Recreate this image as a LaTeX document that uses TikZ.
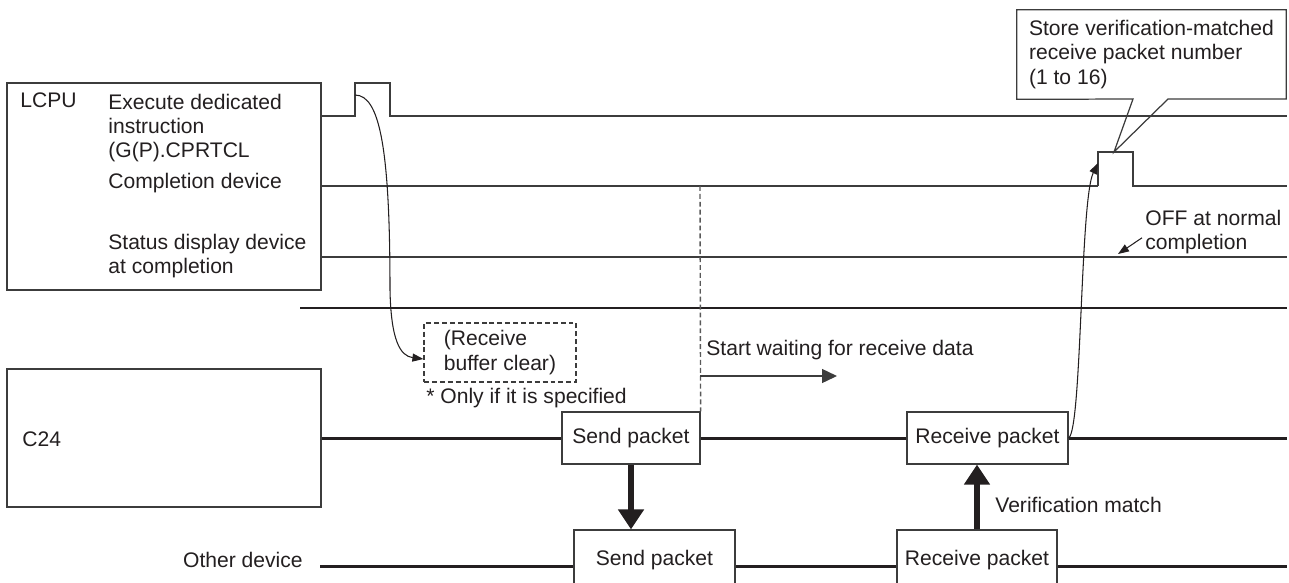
\documentclass[tikz,border=0pt]{standalone}
\usepackage{fontspec}
\setmainfont{Liberation Sans}
\usetikzlibrary{arrows.meta}
\definecolor{ink}{HTML}{231F20}
\definecolor{wire}{HTML}{3C3C3C}

\begin{document}
\begin{tikzpicture}[x=0.02cm,y=-0.02cm,font=\fontsize{12}{13.8}\selectfont,
    lbl/.style={inner sep=0pt,text=ink,align=left},
    panel/.style={draw=wire,line width=0.7pt,minimum width=6.28cm},
    pkt/.style={draw=wire,fill=white,line width=0.7pt,text=ink},
    trace/.style={draw=wire,line width=0.8pt},
    bus/.style={draw=ink,line width=1.7pt},
    push/.style={draw=ink,line width=3.4pt,-{Triangle[length=0.4cm,width=0.5cm]}},
    cue/.style={draw=ink,line width=0.6pt,-{Triangle[length=0.22cm,width=0.16cm]}}]
  \useasboundingbox (0,0) rectangle (1289,582);
  % left panels
  \node[panel,minimum height=4.14cm] (lcpu) at (164,186.5) {};
  \node[panel,minimum height=2.76cm] (c24) at (164,438) {};
  \node[lbl,anchor=base west] (lcpuname) at (20,107) {LCPU};
  \node[lbl,anchor=north west] (exec) at (108,93.5) {Execute dedicated\\instruction\\(G(P).CPRTCL};
  \node[lbl,anchor=base west] (cmpl) at (108,188) {Completion device};
  \node[lbl,anchor=north west] (stat) at (108,233.5) {Status display device\\at completion};
  \node[lbl,anchor=base west] (c24name) at (22,446) {C24};
  \node[lbl,anchor=base east] (other) at (303,567) {Other device};

  % LCPU signals
  \draw[trace] (321,116) -- (355,116) -- (355,83) -- (390,83) -- (390,116) -- (1287,116);
  \draw[trace] (321,186) -- (1098,186);
  \draw[trace,line width=1.2pt] (1098,186) -- (1098,152) -- (1133,152) -- (1133,186) -- (1287,186);
  \draw[trace] (321,257) -- (1287,257);
  \draw[bus] (300,308) -- (1287,308);
  \draw[bus] (320,566) -- (1287,566);
  \coordinate (go) at (355,95);
  \coordinate (done) at (1098,163);
  \coordinate (tip) at (1114,152);

  % packets
  \foreach \n/\x/\y/\w/\h/\t in {sendA/631/438/2.76cm/1.04cm/Send packet,
      recvA/987.5/438/3.22cm/1.04cm/Receive packet,
      sendB/654.5/560/3.22cm/1.2cm/Send packet,
      recvB/977/560/3.2cm/1.2cm/Receive packet}
    \node[pkt,minimum width=\w,minimum height=\h] (\n) at (\x,\y) {\t};
  \draw[bus] (c24.east) -- (sendA.west) (sendA.east) -- (recvA.west) (recvA.east) -- (1287,438);
  \draw[push] (sendA.south) -- (sendA.south |- sendB.north);
  \draw[push] (recvB.north) -- (recvB.north |- recvA.south);

  % receive buffer clear
  \node[lbl,draw=wire,dash pattern=on 2.8pt off 1.7pt,line width=0.7pt,minimum width=3.04cm,minimum height=1.18cm] (rbuf) at (500,352.5) {(Receive\\buffer clear)};
  \node[lbl,anchor=base west] (only) at (426,403) {* Only if it is specified};
  \draw[cue] (go) .. controls (380,95) and (390,150) .. (390,290) .. controls (391,340) and (400,356) .. ([yshift=-0.13cm]rbuf.west);

  % waiting
  \draw[black!65,dash pattern=on 2.8pt off 1.7pt,line width=0.8pt] (700,186) -- (sendA.north east);
  \node[lbl,anchor=base west] (waitnote) at (706,355) {Start waiting for receive data};
  \draw[wire,line width=0.8pt,-{Triangle[length=0.3cm,width=0.28cm]}] (700,376) -- (837,376);

  % verification and store
  \node[lbl,anchor=base west] (vmatch) at (995,512) {Verification match};
  \draw[cue] (recvA.east) .. controls (1082,430) and (1080,200) .. (done);
  \node[lbl,minimum width=5.38cm,minimum height=1.78cm] (store) at (1151.5,54.5) {Store verification-matched\\receive packet number\\(1 to 16)};
  \draw[draw=wire,line width=0.7pt] (store.south west) |- (store.north east) |- (1168,99) -- (tip) -- (1133,99) -- cycle;
  \node[lbl,anchor=north west] (offnote) at (1145,209.5) {OFF at normal\\completion};
  \draw[cue] ([shift={(-3,6)}]offnote.west) -- (1118,254);
\end{tikzpicture}
\end{document}
